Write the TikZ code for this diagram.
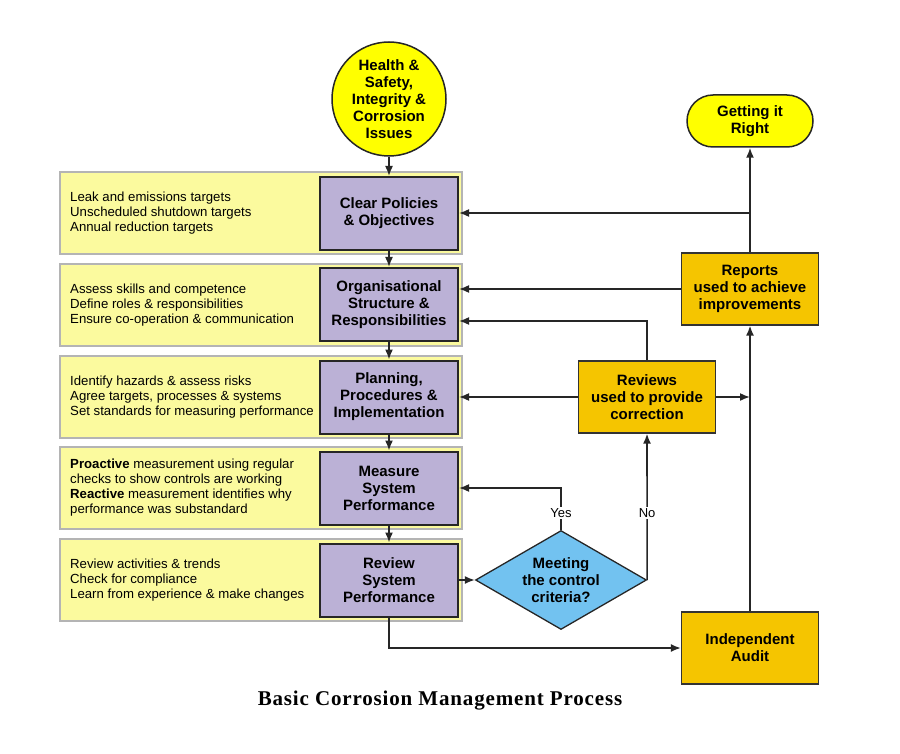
\documentclass[tikz,border=0pt]{standalone}
\usepackage{fontspec}
\setmainfont{Liberation Sans}
\newfontfamily\titlefont[LetterSpace=4]{Liberation Serif}
\usetikzlibrary{arrows.meta,shapes,positioning}

\definecolor{stripyellow}{HTML}{FBFA9E}
\definecolor{stripgrey}{HTML}{B4B4B4}
\definecolor{stagelilac}{HTML}{BBB1D6}
\definecolor{feedbackgold}{HTML}{F5C500}
\definecolor{issueyellow}{HTML}{FFFF00}
\definecolor{checkblue}{HTML}{72C2F0}

\begin{document}
\begin{tikzpicture}
 [x=1pt,y=-1pt,
 strip/.style={
  rectangle,
  fill=stripyellow,
  draw=stripgrey,
  line width=1.5pt,
  minimum width=402pt,
  minimum height=82pt,
  inner sep=0pt},
 notes/.style={anchor=west, align=left, inner sep=0pt,
  font=\fontsize{13.2}{15}\selectfont},
 stage/.style={
  rectangle,
  fill=stagelilac,
  draw=black!85,
  line width=2pt, % border
  minimum width=138pt,
  minimum height=73pt,
  inner sep=0pt,
  align=center,
  font=\fontsize{15}{17}\selectfont\bfseries},
 feedback/.style={
  rectangle,
  fill=feedbackgold,
  draw=black!80,
  line width=1.3pt,
  minimum width=137pt,
  minimum height=72pt,
  inner sep=0pt,
  align=center,
  font=\fontsize{15}{17}\selectfont\bfseries},
 answer/.style={fill=white, inner sep=1.5pt, font=\fontsize{13}{15}\selectfont},
 tip/.style={-{Latex[length=10pt,width=8pt]},line width=1.6pt,draw=black!85}]
\useasboundingbox (0,0) rectangle (900,754);
% yellow note strips behind the stages
\node (strip1) [strip] at (261,213) {};
\node (strip2) [strip] at (261,305) {};
\node (strip3) [strip] at (261,397) {};
\node (strip4) [strip] at (261,488) {};
\node (strip5) [strip] at (261,580) {};
\node (notes1) [notes] at (70,213) {Leak and emissions targets\\Unscheduled shutdown targets\\Annual reduction targets};
\node (notes2) [notes] at (70,305) {Assess skills and competence\\Define roles \& responsibilities\\Ensure co-operation \& communication};
\node (notes3) [notes] at (70,397) {Identify hazards \& assess risks\\Agree targets, processes \& systems\\Set standards for measuring performance};
\node (notes4) [notes] at (70,488) {\textbf{Proactive} measurement using regular\\checks to show controls are working\\\textbf{Reactive} measurement identifies why\\performance was substandard};
\node (notes5) [notes] at (70,580) {Review activities \& trends\\Check for compliance\\Learn from experience \& make changes};
% main stages
\node (issues) [circle, fill=issueyellow, draw=black!85, line width=1.5pt, minimum size=114pt, inner sep=0pt, align=center, font=\fontsize{15}{17}\selectfont\bfseries] at (389,99) {Health \&\\Safety,\\Integrity \&\\Corrosion\\Issues};
\node (policies) [stage] at (389,213.5) {Clear Policies\\\& Objectives};
\node (structure) [stage] at (389,304.5) {Organisational\\Structure \&\\Responsibilities};
\node (planning) [stage] at (389,397) {Planning,\\Procedures \&\\Implementation};
\node (measure) [stage] at (389,488) {Measure\\System\\Performance};
\node (reviewsys) [stage] at (389,580) {Review\\System\\Performance};
\node (criteria) [diamond, aspect=1.73, fill=checkblue, draw=black!85, line width=1.3pt, minimum width=171pt, minimum height=99pt, inner sep=0pt, align=center, font=\fontsize{15}{17}\selectfont\bfseries] at (561,580) {Meeting\\the control\\criteria?};
\node (reviews) [feedback] at (647,397) {Reviews\\used to provide\\correction};
\node (reports) [feedback] at (750,289) {Reports\\used to achieve\\improvements};
\node (audit) [feedback] at (750,648) {Independent\\Audit};
\node (goal) [rectangle, rounded corners=26pt, fill=issueyellow, draw=black!85, line width=1.5pt, minimum width=126pt, minimum height=52pt, inner sep=0pt, align=center, font=\fontsize{15}{17}\selectfont\bfseries] at (750,121) {Getting it\\Right};
\node (title) [font=\titlefont\fontsize{21}{24}\selectfont\bfseries] at (440,701) {Basic Corrosion Management Process};
\coordinate (branch) at (750,213);
\coordinate (join) at (750,397);
% connectors
\path (issues) edge[tip] (policies);
\path (policies) edge[tip] (structure);
\path (structure) edge[tip] (planning);
\path (planning) edge[tip] (measure);
\path (measure) edge[tip] (reviewsys);
\path (reviewsys) edge[tip] (criteria);
\draw[tip] (criteria.north) |- node[answer, pos=0.2] {Yes} (measure.east);
\draw[tip] (criteria.east) -- node[answer, pos=0.46] {No} (reviews.south);
\path (reviews) edge[tip] (planning);
\draw[tip] (reviews.east) -- (join);
\draw[tip] (reviews.north) |- ([yshift=-16.5pt]structure.east);
\draw[tip] (reports.west) -- (reports.west -| structure.east);
\draw[tip] (branch) -- (branch -| policies.east);
\path (reports) edge[tip] (goal);
\path (audit) edge[tip] (reports);
\draw[tip] (reviewsys.south) |- (audit.west);
\end{tikzpicture}
\end{document}
